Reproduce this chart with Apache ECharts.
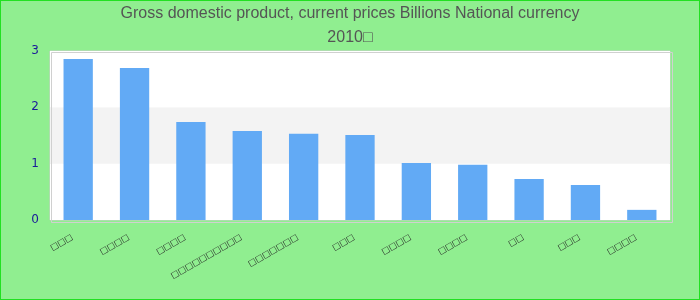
<!DOCTYPE html>
<html><head><meta charset="utf-8">
<script src="https://cdn.jsdelivr.net/npm/echarts@6/dist/echarts.min.js"></script>
<style>html,body{margin:0;padding:0;background:#90ee90;}
#c{width:700px;height:300px;position:absolute;left:0;top:0;}
#b{position:absolute;left:0;top:0;width:700px;height:300px;box-sizing:border-box;border:1px solid #22e022;pointer-events:none;}
</style></head><body>
<div id="c"></div><div id="b"></div>
<script>
const titleText = 'Gross domestic product, current prices Billions National currency';
const subtitleText = '2010\u25A1';
const categories = ['\u25A1\u25A1\u25A1','\u25A1\u25A1\u25A1\u25A1','\u25A1\u25A1\u25A1\u25A1','\u25A1\u25A1\u25A1\u25A1\u25A1\u25A1\u25A1\u25A1\u25A1\u25A1','\u25A1\u25A1\u25A1\u25A1\u25A1\u25A1\u25A1','\u25A1\u25A1\u25A1','\u25A1\u25A1\u25A1\u25A1','\u25A1\u25A1\u25A1\u25A1','\u25A1\u25A1','\u25A1\u25A1\u25A1','\u25A1\u25A1\u25A1\u25A1'];
const values = [2.86, 2.70, 1.74, 1.58, 1.53, 1.51, 1.01, 0.98, 0.73, 0.62, 0.18];

const chart = echarts.init(document.getElementById('c'));
chart.setOption({
  backgroundColor: '#90ee90',
  animation: false,
  title: {
    text: titleText, subtext: subtitleText, left: 'center', top: 1,
    textStyle: {fontFamily: 'Liberation Sans', fontSize: 16, fontWeight: 'normal', color: '#555'},
    subtextStyle: {fontFamily: 'Liberation Sans', fontSize: 16, color: '#555'},
    itemGap: 8
  },
  grid: {left: 50, right: 30, top: 51, bottom: 80, show: true, borderColor: '#ccc', borderWidth: 1, backgroundColor: '#fff'},
  graphic: [{type: 'rect', left: 49, top: 50, z: 100, silent: true,
    shape: {width: 621, height: 170}, style: {fill: 'none', stroke: '#d0d0d0', lineWidth: 1}}],
  xAxis: {
    type: 'category', data: categories,
    axisLine: {show: false}, axisTick: {show: false},
    axisLabel: {rotate: 30, fontSize: 8.5, color: '#222', fontFamily: 'DejaVu Sans', margin: 13, interval: 0, padding: [0, 7, 0, 0]}
  },
  yAxis: {
    type: 'value', min: 0, max: 3, interval: 1,
    axisLine: {show: false}, axisTick: {show: false},
    splitLine: {show: false},
    splitArea: {show: true, areaStyle: {color: ['#ffffff', '#f3f3f3']}},
    axisLabel: {color: '#1a1a99', fontSize: 12, fontFamily: 'DejaVu Sans', margin: 11}
  },
  series: [{type: 'bar', data: values, barWidth: '52%', itemStyle: {color: '#62aaf5'}}]
});
</script></body></html>
